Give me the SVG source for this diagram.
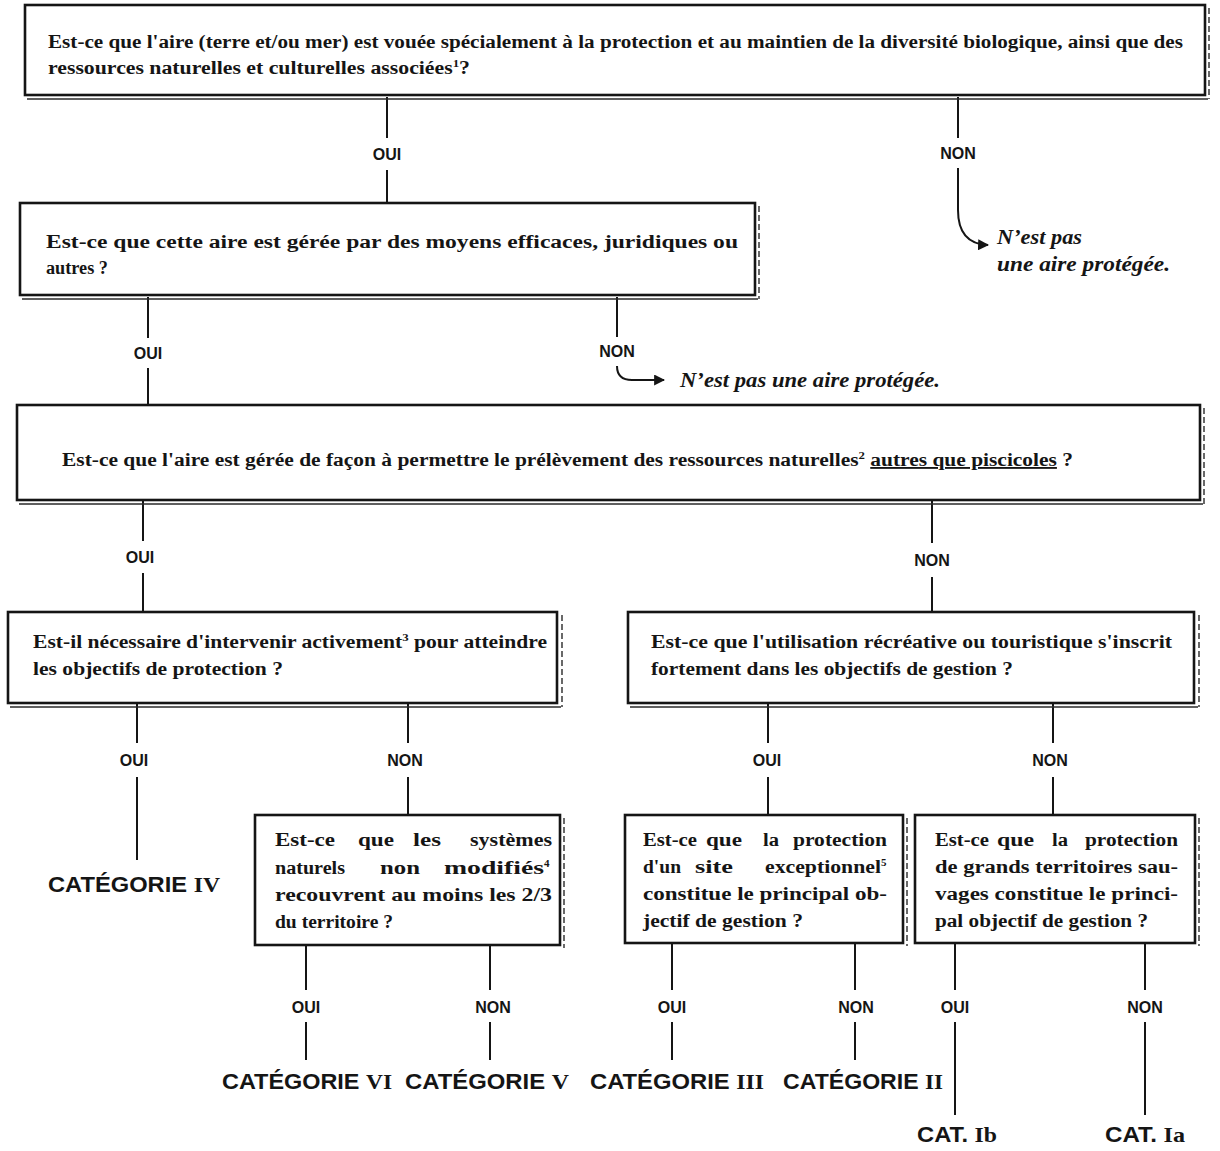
<svg xmlns="http://www.w3.org/2000/svg" width="1220" height="1151" viewBox="0 0 1220 1151">
<style>
.bx{fill:#fff;stroke:#151515;stroke-width:2.6}
.sh{fill:none;stroke:#2a2a2a;stroke-width:1.4}
.shd{fill:none;stroke:#2a2a2a;stroke-width:1.4;stroke-dasharray:6 3}
.q{font-family:"Liberation Serif","Times New Roman",serif;font-weight:bold;font-size:18.5px;fill:#151515}
.sup{font-size:11px}
.lb{font-family:"Liberation Sans",Arial,sans-serif;font-weight:bold;font-size:16px;text-anchor:middle;fill:#151515}
.cat{font-family:"Liberation Sans",Arial,sans-serif;font-weight:bold;font-size:22px;fill:#151515}
.rn{font-family:"Liberation Serif","Times New Roman",serif}
.it{font-family:"Liberation Serif","Times New Roman",serif;font-style:italic;font-weight:bold;font-size:20px;fill:#151515}
.cn line,.cn path{stroke:#151515;stroke-width:2;fill:none}
</style>
<defs>
<marker id="ah" viewBox="0 0 10 10" refX="9" refY="5" markerWidth="11" markerHeight="11" markerUnits="userSpaceOnUse" orient="auto">
<path d="M0,0 L10,5 L0,10 z" fill="#151515"/>
</marker>
</defs>
<rect width="1220" height="1151" fill="#fff"/>

<g id="connectors" class="cn">
<line x1="387" y1="97" x2="387" y2="138"/>
<line x1="387" y1="170" x2="387" y2="203"/>
<line x1="958" y1="97" x2="958" y2="138"/>
<path d="M958,168 V210 Q958,244 988,245" marker-end="url(#ah)"/>
<line x1="148" y1="297" x2="148" y2="338"/>
<line x1="148" y1="368" x2="148" y2="405"/>
<line x1="617" y1="297" x2="617" y2="337"/>
<path d="M617,366 Q617,380 632,380 H664" marker-end="url(#ah)"/>
<line x1="143" y1="500" x2="143" y2="541"/>
<line x1="143" y1="573" x2="143" y2="612"/>
<line x1="932" y1="500" x2="932" y2="543"/>
<line x1="932" y1="577" x2="932" y2="612"/>
<line x1="137" y1="703" x2="137" y2="743"/>
<line x1="137" y1="777" x2="137" y2="860"/>
<line x1="408" y1="703" x2="408" y2="743"/>
<line x1="408" y1="777" x2="408" y2="815"/>
<line x1="768" y1="703" x2="768" y2="743"/>
<line x1="768" y1="777" x2="768" y2="815"/>
<line x1="1053" y1="703" x2="1053" y2="743"/>
<line x1="1053" y1="777" x2="1053" y2="815"/>
<line x1="306" y1="945" x2="306" y2="990"/>
<line x1="306" y1="1022" x2="306" y2="1060"/>
<line x1="490" y1="945" x2="490" y2="990"/>
<line x1="490" y1="1022" x2="490" y2="1060"/>
<line x1="672" y1="943" x2="672" y2="990"/>
<line x1="672" y1="1022" x2="672" y2="1060"/>
<line x1="855" y1="943" x2="855" y2="990"/>
<line x1="855" y1="1022" x2="855" y2="1060"/>
<line x1="955" y1="943" x2="955" y2="990"/>
<line x1="955" y1="1022" x2="955" y2="1115"/>
<line x1="1145" y1="943" x2="1145" y2="990"/>
<line x1="1145" y1="1022" x2="1145" y2="1115"/>
</g>

<g id="labels">
<text class="lb" x="387" y="160">OUI</text>
<text class="lb" x="958" y="159">NON</text>
<text class="lb" x="148" y="359">OUI</text>
<text class="lb" x="617" y="357">NON</text>
<text class="lb" x="140" y="563">OUI</text>
<text class="lb" x="932" y="566">NON</text>
<text class="lb" x="134" y="766">OUI</text>
<text class="lb" x="405" y="766">NON</text>
<text class="lb" x="767" y="766">OUI</text>
<text class="lb" x="1050" y="766">NON</text>
<text class="lb" x="306" y="1013">OUI</text>
<text class="lb" x="493" y="1013">NON</text>
<text class="lb" x="672" y="1013">OUI</text>
<text class="lb" x="856" y="1013">NON</text>
<text class="lb" x="955" y="1013">OUI</text>
<text class="lb" x="1145" y="1013">NON</text>
</g>

<g id="not1">
<text class="it" x="997" y="244" textLength="85" lengthAdjust="spacingAndGlyphs">N’est pas</text>
<text class="it" x="997" y="271" textLength="173" lengthAdjust="spacingAndGlyphs">une aire protégée.</text>
</g>
<g id="not2">
<text class="it" x="680" y="387" textLength="260" lengthAdjust="spacingAndGlyphs">N’est pas une aire protégée.</text>
</g>

<g id="q1">
<rect class="bx" x="25" y="5" width="1180" height="90"/>
<path class="sh" d="M27,99 H1208"/>
<path class="shd" d="M1209,8 V99"/>
<text class="q" x="48" y="48" textLength="1135" lengthAdjust="spacingAndGlyphs">Est-ce que l'aire (terre et/ou mer) est vouée spécialement à la protection et au maintien de la diversité biologique, ainsi que des</text>
<text class="q" x="48" y="74" textLength="422" lengthAdjust="spacingAndGlyphs">ressources naturelles et culturelles associées<tspan class="sup" dy="-7">1</tspan><tspan dy="7">?</tspan></text>
</g>

<g id="q2">
<rect class="bx" x="20" y="203" width="735" height="92"/>
<path class="sh" d="M22,299 H758"/>
<path class="shd" d="M759,206 V299"/>
<text class="q" x="46" y="248" textLength="692" lengthAdjust="spacingAndGlyphs">Est-ce que cette aire est gérée par des moyens efficaces, juridiques ou</text>
<text class="q" x="46" y="274" textLength="62" lengthAdjust="spacingAndGlyphs">autres ?</text>
</g>

<g id="q3">
<rect class="bx" x="17" y="405" width="1183" height="95"/>
<path class="sh" d="M19,504 H1203"/>
<path class="shd" d="M1204,408 V504"/>
<text class="q" x="62" y="466" textLength="1011" lengthAdjust="spacingAndGlyphs">Est-ce que l'aire est gérée de façon à permettre le prélèvement des ressources naturelles<tspan class="sup" dy="-7">2</tspan><tspan dy="7">  </tspan><tspan text-decoration="underline">autres que piscicoles</tspan> ?</text>
</g>

<g id="q4">
<rect class="bx" x="8" y="612" width="549" height="91"/>
<path class="sh" d="M10,707 H561"/>
<path class="shd" d="M562,615 V707"/>
<text class="q" x="33" y="648" textLength="514" lengthAdjust="spacingAndGlyphs">Est-il nécessaire d'intervenir activement<tspan class="sup" dy="-7">3</tspan><tspan dy="7"> pour atteindre</tspan></text>
<text class="q" x="33" y="675" textLength="250" lengthAdjust="spacingAndGlyphs">les objectifs de protection ?</text>
</g>

<g id="q5">
<rect class="bx" x="628" y="612" width="566" height="91"/>
<path class="sh" d="M630,707 H1198"/>
<path class="shd" d="M1199,615 V707"/>
<text class="q" x="651" y="648" textLength="521" lengthAdjust="spacingAndGlyphs">Est-ce que l'utilisation récréative ou touristique s'inscrit</text>
<text class="q" x="651" y="675" textLength="362" lengthAdjust="spacingAndGlyphs">fortement dans les objectifs de gestion ?</text>
</g>

<g id="q6">
<rect class="bx" x="255" y="815" width="305" height="130"/>
<path class="shd" d="M564,818 V948"/>
<text class="q" y="846"><tspan x="275" textLength="60" lengthAdjust="spacingAndGlyphs">Est-ce</tspan><tspan x="358" textLength="36" lengthAdjust="spacingAndGlyphs">que</tspan><tspan x="413" textLength="28" lengthAdjust="spacingAndGlyphs">les</tspan><tspan x="470" textLength="82" lengthAdjust="spacingAndGlyphs">systèmes</tspan></text>
<text class="q" y="874"><tspan x="275" textLength="70" lengthAdjust="spacingAndGlyphs">naturels</tspan><tspan x="380" textLength="40" lengthAdjust="spacingAndGlyphs">non</tspan><tspan x="444" textLength="100" lengthAdjust="spacingAndGlyphs">modifiés</tspan><tspan class="sup" dy="-7">4</tspan></text>
<text class="q" x="275" y="901" textLength="277" lengthAdjust="spacingAndGlyphs">recouvrent au moins les 2/3</text>
<text class="q" x="275" y="928" textLength="118" lengthAdjust="spacingAndGlyphs">du territoire ?</text>
</g>

<g id="q7">
<rect class="bx" x="625" y="815" width="278" height="128"/>
<path class="shd" d="M907,818 V946"/>
<text class="q" y="846"><tspan x="643" textLength="54" lengthAdjust="spacingAndGlyphs">Est-ce</tspan><tspan x="706" textLength="36" lengthAdjust="spacingAndGlyphs">que</tspan><tspan x="763" textLength="16" lengthAdjust="spacingAndGlyphs">la</tspan><tspan x="793" textLength="94" lengthAdjust="spacingAndGlyphs">protection</tspan></text>
<text class="q" y="873"><tspan x="643" textLength="38" lengthAdjust="spacingAndGlyphs">d'un</tspan><tspan x="695" textLength="38" lengthAdjust="spacingAndGlyphs">site</tspan><tspan x="765" textLength="116" lengthAdjust="spacingAndGlyphs">exceptionnel</tspan><tspan class="sup" dy="-7">5</tspan></text>
<text class="q" x="643" y="900" textLength="244" lengthAdjust="spacingAndGlyphs">constitue le principal ob-</text>
<text class="q" x="643" y="927" textLength="160" lengthAdjust="spacingAndGlyphs">jectif de gestion ?</text>
</g>

<g id="q8">
<rect class="bx" x="915" y="815" width="280" height="128"/>
<path class="shd" d="M1199,818 V946"/>
<text class="q" y="846"><tspan x="935" textLength="54" lengthAdjust="spacingAndGlyphs">Est-ce</tspan><tspan x="997" textLength="37" lengthAdjust="spacingAndGlyphs">que</tspan><tspan x="1052" textLength="16" lengthAdjust="spacingAndGlyphs">la</tspan><tspan x="1085" textLength="93" lengthAdjust="spacingAndGlyphs">protection</tspan></text>
<text class="q" x="935" y="873" textLength="243" lengthAdjust="spacingAndGlyphs">de grands territoires sau-</text>
<text class="q" x="935" y="900" textLength="243" lengthAdjust="spacingAndGlyphs">vages constitue le princi-</text>
<text class="q" x="935" y="927" textLength="213" lengthAdjust="spacingAndGlyphs">pal objectif de gestion ?</text>
</g>

<g id="cat4"><text class="cat" x="48" y="892" textLength="172" lengthAdjust="spacingAndGlyphs">CATÉGORIE <tspan class="rn">IV</tspan></text></g>
<g id="cat6"><text class="cat" x="222" y="1089" textLength="170" lengthAdjust="spacingAndGlyphs">CATÉGORIE <tspan class="rn">VI</tspan></text></g>
<g id="cat5"><text class="cat" x="405" y="1089" textLength="164" lengthAdjust="spacingAndGlyphs">CATÉGORIE <tspan class="rn">V</tspan></text></g>
<g id="cat3"><text class="cat" x="590" y="1089" textLength="174" lengthAdjust="spacingAndGlyphs">CATÉGORIE <tspan class="rn">III</tspan></text></g>
<g id="cat2"><text class="cat" x="783" y="1089" textLength="160" lengthAdjust="spacingAndGlyphs">CATÉGORIE <tspan class="rn">II</tspan></text></g>
<g id="cat1b"><text class="cat" x="917" y="1142" textLength="80" lengthAdjust="spacingAndGlyphs">CAT. <tspan class="rn">Ib</tspan></text></g>
<g id="cat1a"><text class="cat" x="1105" y="1142" textLength="80" lengthAdjust="spacingAndGlyphs">CAT. <tspan class="rn">Ia</tspan></text></g>
</svg>
